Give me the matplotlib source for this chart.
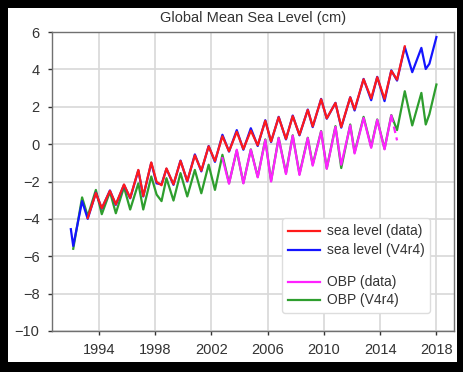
import numpy as np
import matplotlib
matplotlib.use("Agg")
import matplotlib.pyplot as plt
from matplotlib.lines import Line2D
from matplotlib.patches import Rectangle

# time points (decimal year), roughly spring troughs / autumn peaks
t = [1992.0, 1992.17, 1992.8, 1993.2, 1993.78, 1994.2, 1994.78, 1995.2, 1995.78,
     1996.22, 1996.8, 1997.15, 1997.72, 1998.1, 1998.45, 1998.8, 1999.3, 1999.8,
     2000.28, 2000.82, 2001.28, 2001.8, 2002.25, 2002.78, 2003.25, 2003.8,
     2004.27, 2004.8, 2005.29, 2005.83, 2006.24, 2006.78, 2007.3, 2007.78,
     2008.26, 2008.85, 2009.2, 2009.8, 2010.2, 2010.82, 2011.23, 2011.87,
     2012.18, 2012.82, 2013.36, 2013.79, 2014.31, 2014.79, 2015.2, 2015.75,
     2016.28, 2016.93, 2017.24, 2017.5, 2018.0]

nan = np.nan

# sea level, ECCO V4r4
sl_model = [-4.55, -5.45, -3.05, -4.0, -2.6, -3.45, -2.48, -3.25, -2.18,
            -2.9, -1.4, -2.8, -1.0, -2.1, -2.15, -1.32, -2.18, -0.88,
            -2.0, -0.55, -1.46, -0.1, -0.95, 0.5, -0.4, 0.75,
            -0.3, 0.85, -0.1, 1.28, 0.11, 1.46, 0.25, 1.53,
            0.47, 1.85, 0.91, 2.42, 1.36, 2.21, 0.88, 2.51,
            1.8, 3.49, 2.35, 3.6, 2.3, 3.95, 3.4, 5.2,
            3.85, 5.15, 4.02, 4.3, 5.73]

# sea level, altimetry data
sl_data = [nan, nan, nan, -3.95, -2.62, -3.43, -2.5, -3.22, -2.16,
           -2.88, -1.38, -2.78, -0.98, -2.02, -2.2, -1.3, -2.15, -0.9,
           -1.97, -0.6, -1.42, -0.12, -0.9, 0.42, -0.38, 0.66,
           -0.26, 0.72, -0.06, 1.25, 0.14, 1.44, 0.28, 1.5,
           0.5, 1.83, 0.95, 2.4, 1.38, 2.2, 0.92, 2.5,
           1.86, 3.47, 2.45, 3.58, 2.42, 3.92, 3.45, 5.23,
           nan, nan, nan, nan, nan]

# ocean bottom pressure, ECCO V4r4
obp_model = [nan, -5.6, -2.85, -3.85, -2.45, -3.75, -2.55, -3.7, -2.3,
             -3.5, -2.1, -3.5, -1.73, -2.7, -3.05, -1.82, -3.02, -1.55,
             -2.8, -1.38, -2.63, -1.1, -2.45, -0.57, -2.09, -0.34,
             -2.08, -0.28, -1.75, 0.25, -1.97, 0.34, -1.55, 0.47,
             -1.6, 0.34, -1.1, 0.7, -1.3, 0.96, -1.28, 1.05,
             -0.45, 1.46, -0.15, 1.32, -0.25, 1.55, 0.75, 2.83,
             1.0, 2.74, 1.05, 1.6, 3.19]

# ocean bottom pressure, GRACE data
obp_data = [nan, nan, nan, nan, nan, nan, nan, nan, nan,
            nan, nan, nan, nan, nan, nan, nan, nan, nan,
            nan, nan, nan, nan, nan, -0.75, -2.12, -0.3,
            -2.1, -0.3, -1.78, 0.22, -2.0, 0.32, -1.6, 0.45,
            -1.65, 0.32, -1.15, 0.68, -1.32, 0.92, -1.1, 1.0,
            -0.5, 1.4, -0.2, 1.3, -0.28, 1.52, 0.2, nan,
            nan, nan, nan, nan, nan]

plt.rcParams["font.family"] = ["Liberation Sans", "DejaVu Sans"]

fig = plt.figure(figsize=(4.64, 3.72), dpi=100, facecolor="black")
fig.patches.append(Rectangle((8 / 464, 10 / 372), 449 / 464, 354 / 372,
                             transform=fig.transFigure, facecolor="white",
                             edgecolor="none", zorder=-10))

ax = fig.add_axes([52 / 464, 41 / 372, 402 / 464, 299 / 372])
ax.set_facecolor("white")

lw = 1.6
ax.plot(t, sl_model, color="#1414ff", lw=lw, zorder=3)
ax.plot(t, sl_data, color="#ff1a1a", lw=lw, zorder=4)
ax.plot(t, obp_model, color="#2e9e2e", lw=lw, zorder=2)
# GRACE record ends with a gappy (dashed) stretch
k = t.index(2014.79)
ax.plot(t[:k + 1], obp_data[:k + 1], color="#ff22ff", lw=lw, zorder=2.5)
ax.plot(t[k:], obp_data[k:], color="#ff22ff", lw=lw, zorder=2.5,
        dashes=(3, 2))

ax.set_xlim(1990.66, 2019.25)
ax.set_ylim(-10, 6)
ax.set_xticks(range(1994, 2019, 4))
ax.set_yticks(range(-10, 7, 2))
ax.grid(True, color="#d8d8d8", lw=1.2)
ax.set_axisbelow(True)
for s in ax.spines.values():
    s.set_color("#707070")
    s.set_linewidth(1.0)
ax.tick_params(labelsize=10.5, colors="#333333", length=3, width=1, pad=6)
ax.set_title("Global Mean Sea Level (cm)", fontsize=10.5, color="#333333", pad=7)

handles = [Line2D([], [], color="#ff1a1a", lw=lw),
           Line2D([], [], color="#1414ff", lw=lw),
           Line2D([], [], color="none"),
           Line2D([], [], color="#ff22ff", lw=lw),
           Line2D([], [], color="#2e9e2e", lw=lw)]
labels = ["sea level (data)", "sea level (V4r4)", " ", "OBP (data)", "OBP (V4r4)"]
leg = ax.legend(handles, labels, loc="lower right",
                bbox_to_anchor=(0.9403, 0.0602), borderaxespad=0,
                fontsize=10, handlelength=2.3, handleheight=0.3,
                handletextpad=0.5, labelspacing=0.35, frameon=True,
                fancybox=True, framealpha=1, edgecolor="#dddddd")
for txt in leg.get_texts():
    txt.set_color("#333333")
leg.get_texts()[2].set_fontsize(1)

fig.savefig("out.png", dpi=100, facecolor=fig.get_facecolor())
